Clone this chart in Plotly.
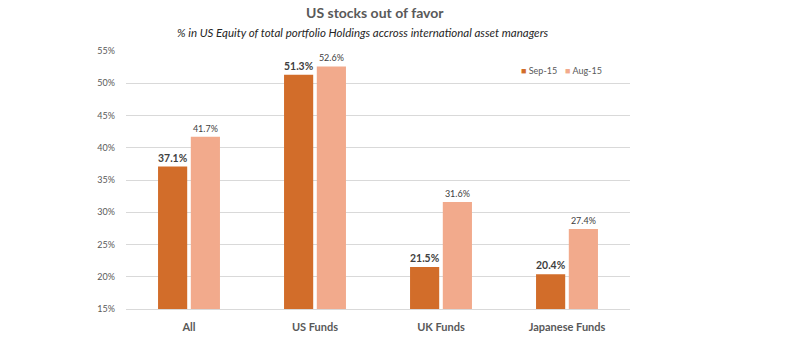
import plotly.graph_objects as go

categories = ["All", "US Funds", "UK Funds", "Japanese Funds"]
sep15 = [37.1, 51.3, 21.5, 20.4]
aug15 = [41.7, 52.6, 31.6, 27.4]
series_names = ["Sep-15", "Aug-15"]
series_colors = ["#D26D2A", "#F2AA8C"]
tick_vals = [15, 20, 25, 30, 35, 40, 45, 50, 55]
tick_text = [f"{v}%" for v in tick_vals]

FONT = "Lato, 'Open Sans', sans-serif"
L, R, T, B = 126, 159, 51, 41
W, H = 789, 350
pw = W - L - R
ph = H - T - B

def px2paper(px, py):
    return (px - L) / pw, 1 + (T - py) / ph

fig = go.Figure()
fig.add_trace(go.Bar(
    x=categories, y=sep15, name=series_names[0],
    marker=dict(color=series_colors[0], line=dict(width=0)),
    text=[f"{v:.1f}%" for v in sep15], textposition="outside",
    textfont=dict(family=FONT, size=11, color="#404040", weight="bold"),
    cliponaxis=False, showlegend=False,
))
fig.add_trace(go.Bar(
    x=categories, y=aug15, name=series_names[1],
    marker=dict(color=series_colors[1], line=dict(width=0)),
    text=[f"{v:.1f}%" for v in aug15], textposition="outside",
    textfont=dict(family=FONT, size=9, color="#404040"),
    cliponaxis=False, showlegend=False,
))

annotations = []
x0, y0 = px2paper(375, 13)
annotations.append(dict(text="<b>US stocks out of favor</b>", x=x0, y=y0, xref="paper", yref="paper",
                        xanchor="center", yanchor="middle", showarrow=False,
                        font=dict(size=14, color="#595959", family=FONT)))
x0, y0 = px2paper(363, 32)
annotations.append(dict(text="<i>% in US Equity of total portfolio Holdings accross international asset managers</i>",
                        x=x0, y=y0, xref="paper", yref="paper", xanchor="center", yanchor="middle",
                        showarrow=False, font=dict(size=11.5, color="#262626", family=FONT)))
# legend (compact, Excel-style)
for name, color, lx in zip(series_names, series_colors, [519, 563]):
    x0, y0 = px2paper(lx, 70)
    annotations.append(dict(text=f"<span style='color:{color}'>■</span> {name}", x=x0, y=y0,
                            xref="paper", yref="paper", xanchor="left", yanchor="middle",
                            showarrow=False, font=dict(size=9, color="#595959", family=FONT)))

fig.update_layout(
    width=W, height=H,
    margin=dict(l=L, r=R, t=T, b=B),
    paper_bgcolor="white", plot_bgcolor="white",
    barmode="group", bargap=0.48, bargroupgap=0.11,
    font=dict(family=FONT, color="#595959"),
    showlegend=False,
    annotations=annotations,
)

fig.update_xaxes(showgrid=False, showline=True, linecolor="#D9D9D9", linewidth=1,
                 ticks="", ticklabelstandoff=8,
                 tickfont=dict(size=11, color="#595959", family=FONT, weight="bold"))
fig.update_yaxes(range=[15, 55], tickvals=tick_vals, ticktext=tick_text,
                 showgrid=True, gridcolor="#D9D9D9", gridwidth=1, zeroline=False,
                 showline=False, ticks="", ticklabelstandoff=10,
                 tickfont=dict(size=9, color="#595959", family=FONT))

fig.write_html("out.html")
